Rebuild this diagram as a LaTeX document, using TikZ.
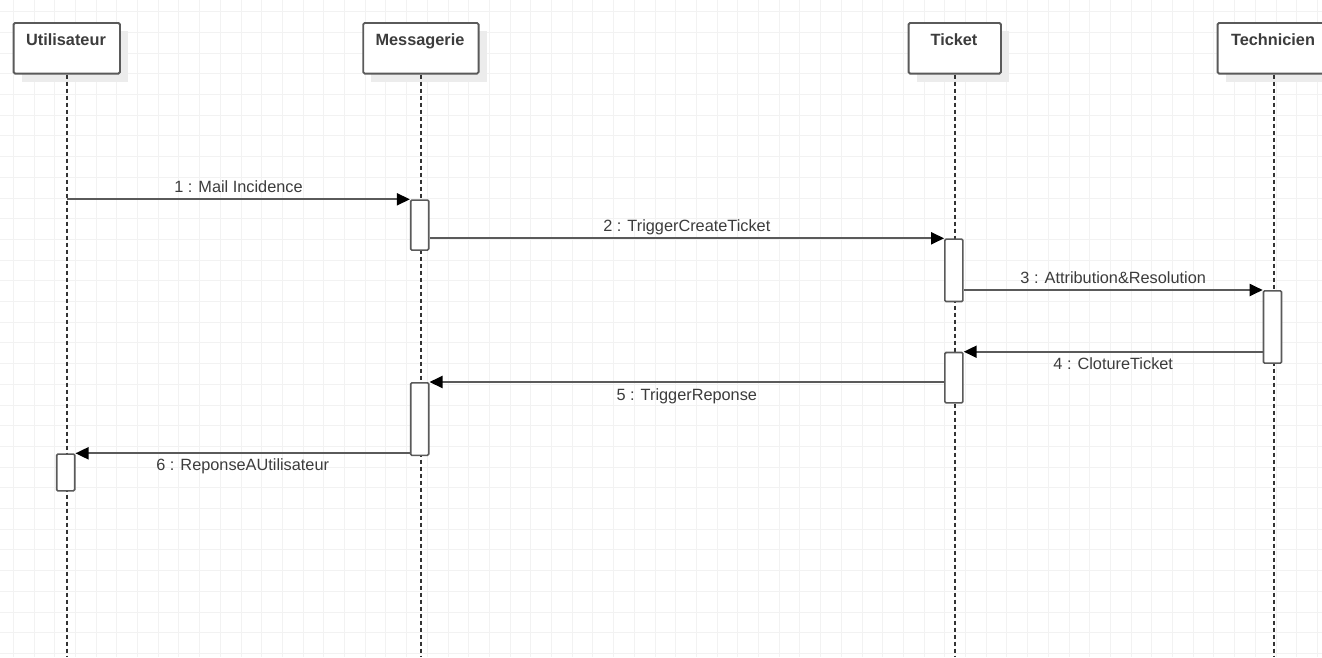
\documentclass[tikz,border=0pt]{standalone}
\usepackage{fontspec}
\setmainfont{Liberation Sans}
\usetikzlibrary{arrows.meta,calc}
\definecolor{gridc}{HTML}{F2F2F2}
\definecolor{linec}{HTML}{5A5A5A}
\definecolor{txtc}{HTML}{3C3C3C}
\definecolor{shadc}{HTML}{ECECEC}
\tikzset{
  gridline/.style={draw=gridc, line width=0.9pt},
  hdr/.style={draw=linec, line width=1.8pt, fill=white, rounded corners=1.5pt, inner sep=0pt, anchor=north west},
  shad/.style={fill=shadc, draw=none},
  hdrtxt/.style={font=\fontsize{16.3}{19}\selectfont\bfseries, text=txtc, anchor=base, inner sep=0pt},
  life/.style={draw=black!80, line width=1.3pt, dash pattern=on 4pt off 3pt},
  act/.style={draw=linec, line width=1.6pt, fill=white, rounded corners=1.2pt, inner sep=0pt, minimum width=18pt, anchor=north},
  msg/.style={draw=linec, line width=1.9pt, -{Triangle[length=13pt,width=12pt,fill=black,color=black]}},
  lbl/.style={font=\fontsize{16.3}{19}\selectfont, text=txtc, anchor=base, inner sep=0pt},
}
\begin{document}
\begin{tikzpicture}[x=1pt,y=-1pt]
\useasboundingbox (0,0) rectangle (1322,657);
\clip (0,0) rectangle (1322,657);
\fill[white] (0,0) rectangle (1322,657);
% grid
\foreach \i in {0,...,63} \draw[gridline] ({13.3+20.7*\i},0) -- ({13.3+20.7*\i},657);
\foreach \j in {0,...,31} \draw[gridline] (0,{11.7+20.7*\j}) -- (1322,{11.7+20.7*\j});
% shadows
\fill[shad] (21.7,31) rectangle (128,81.7);
\fill[shad] (371.3,31) rectangle (486.7,81.7);
\fill[shad] (916.7,31) rectangle (1009,81.7);
\fill[shad] (1225.7,31) rectangle (1345,81.7);
% header boxes
\node[hdr, minimum width=106.3pt, minimum height=50.7pt] (U) at (12.7,22) {};
\node[hdr, minimum width=115.4pt, minimum height=50.7pt] (M) at (362.3,22) {};
\node[hdr, minimum width=92.3pt, minimum height=50.7pt] (T) at (907.7,22) {};
\node[hdr, minimum width=115pt, minimum height=50.7pt] (Te) at (1216.7,22) {};
\node[hdrtxt] (Ut) at (66,45) {Utilisateur};
\node[hdrtxt] (Mt) at (420,45) {Messagerie};
\node[hdrtxt] (Tt) at (954,45) {Ticket};
\node[hdrtxt] (Tet) at (1273,45) {Technicien};
% lifelines
\coordinate (Ub) at (67,657);
\coordinate (Mb) at (421,657);
\coordinate (Tb) at (955,657);
\coordinate (Teb) at (1274,657);
\draw[life] (U.south -| Ub) -- (Ub);
\draw[life] (M.south -| Mb) -- (Mb);
\draw[life] (T.south -| Tb) -- (Tb);
\draw[life] (Te.south -| Teb) -- (Teb);
% activation boxes
\node[act, minimum height=50pt] (M1) at (419.7,199.3) {};
\node[act, minimum height=62.4pt] (T1) at (953.9,238.3) {};
\node[act, minimum height=72.3pt] (Te1) at (1272.5,290) {};
\node[act, minimum height=50.3pt] (T2) at (953.9,351.7) {};
\node[act, minimum height=72.5pt] (M2) at (419.7,382) {};
\node[act, minimum height=36.7pt] (U1) at (65.7,453.3) {};
% messages
\draw[msg] (M1.north west -| Ub) -- node[lbl, pos=0.5, yshift=7pt] {1 : Mail Incidence} (M1.north west);
\draw[msg] (T1.north west -| M1.east) -- node[lbl, pos=0.5, yshift=7pt] {2 : TriggerCreateTicket} (T1.north west);
\draw[msg] (Te1.north west -| T1.east) -- node[lbl, pos=0.5, yshift=7pt] {3 : Attribution\&Resolution} (Te1.north west);
\draw[msg] (T2.north east -| Te1.west) -- node[lbl, pos=0.5, yshift=-18pt] {4 : ClotureTicket} (T2.north east);
\draw[msg] (M2.north east -| T2.west) -- node[lbl, pos=0.5, yshift=-18pt] {5 : TriggerReponse} (M2.north east);
\draw[msg] (U1.north east -| M2.west) -- node[lbl, pos=0.5, yshift=-17pt] {6 : ReponseAUtilisateur} (U1.north east);
\end{tikzpicture}
\end{document}
